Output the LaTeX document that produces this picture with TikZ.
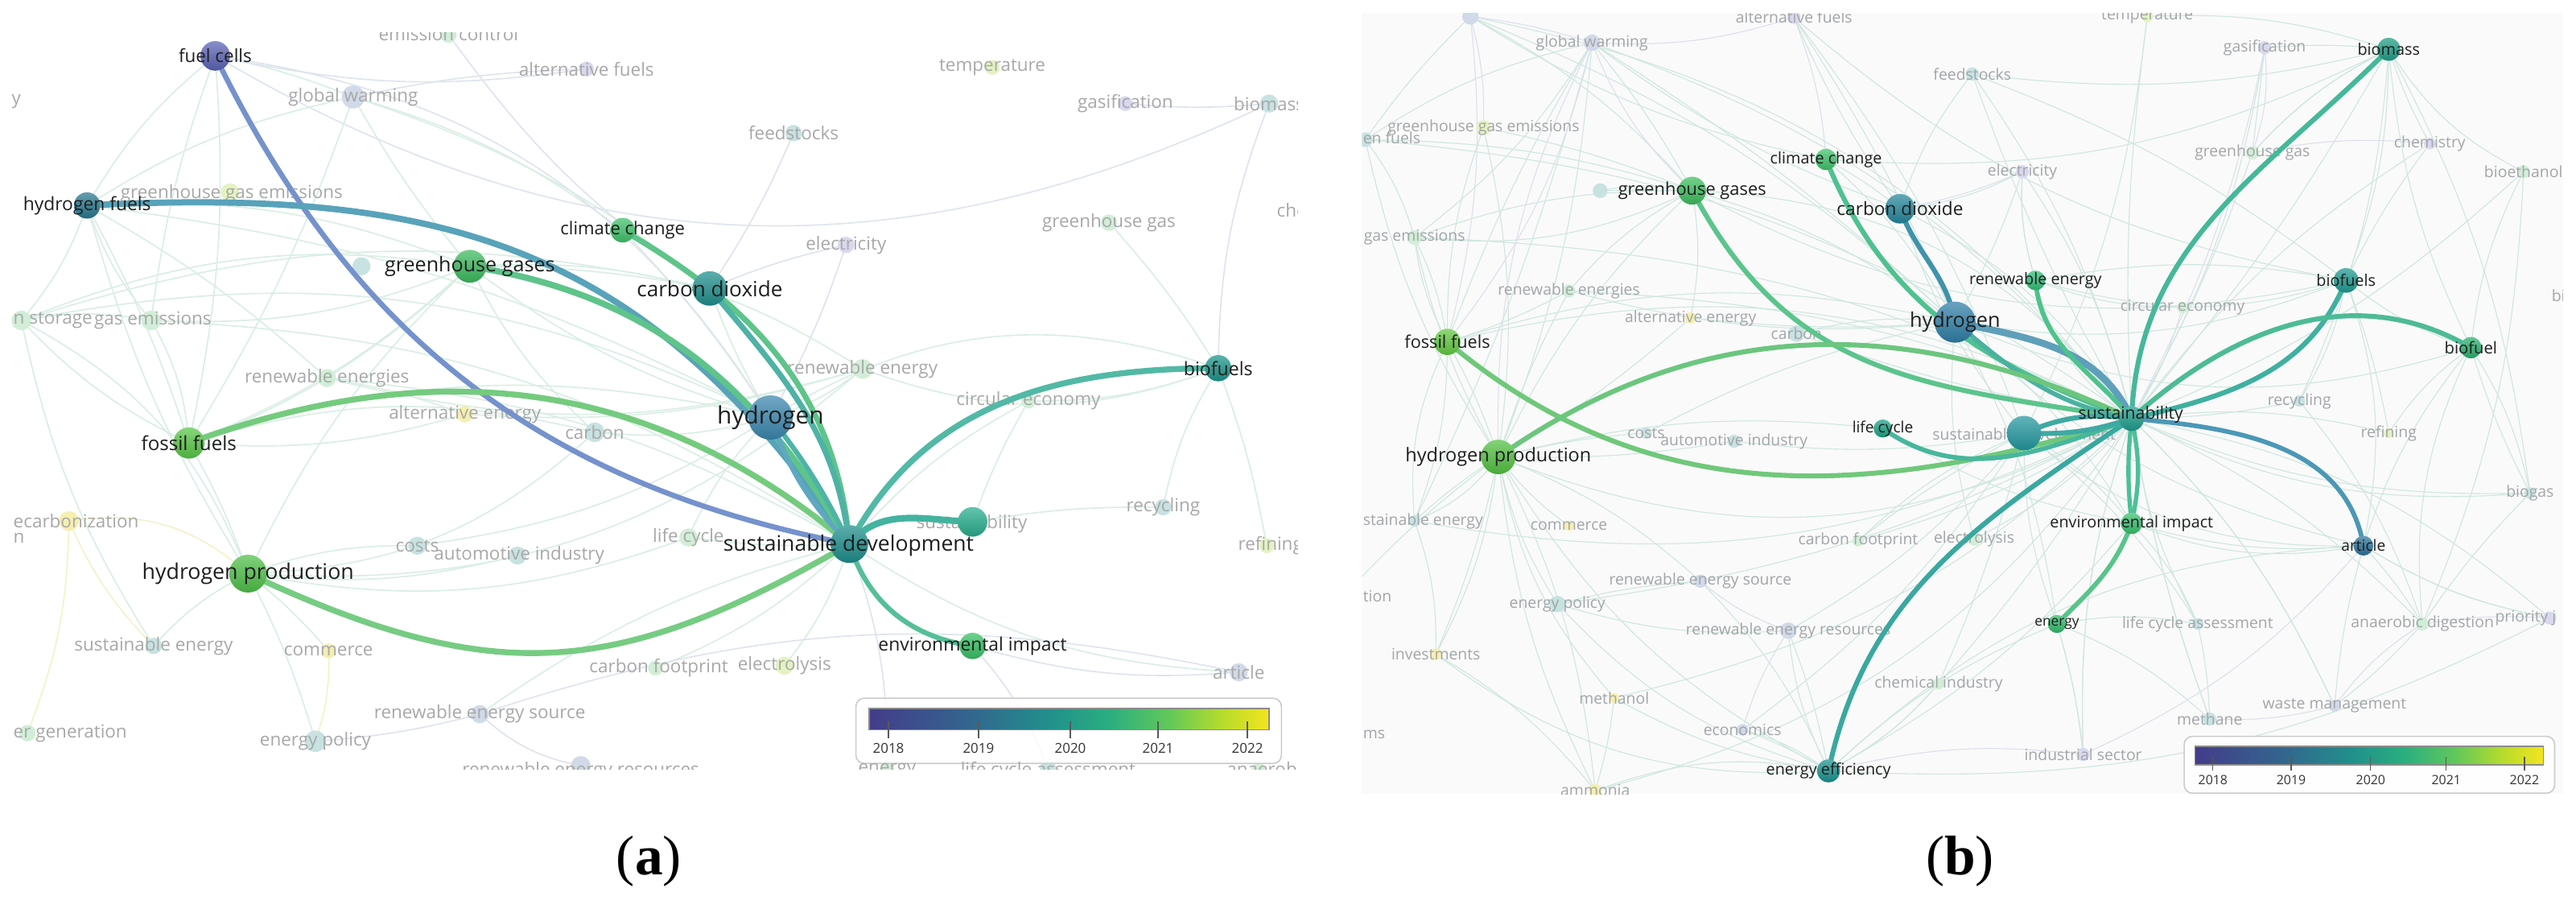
\documentclass[tikz,border=0pt]{standalone}
\usepackage{fontspec}
\setmainfont{Open Sans}
\newfontfamily\capfont{Liberation Serif}
\definecolor{labk}{HTML}{1E1E1E}
\definecolor{labf}{HTML}{A8A8A8}
\definecolor{labfb}{HTML}{A2A6A8}
\definecolor{faintA}{HTML}{DAEEE4}
\definecolor{faintAb}{HTML}{DEE4EE}
\definecolor{faintAy}{HTML}{F3F2CC}
\definecolor{faintB}{HTML}{D0E6E0}
\definecolor{faintBb}{HTML}{DCE0EC}
\definecolor{v0}{HTML}{443C8A}
\definecolor{v1}{HTML}{33658E}
\definecolor{v2}{HTML}{21908C}
\definecolor{v3}{HTML}{2AAE7F}
\definecolor{v4}{HTML}{62C85A}
\definecolor{v5}{HTML}{B4DC2C}
\definecolor{v6}{HTML}{F4E41E}
\definecolor{nb}{HTML}{D2D9E8}
\definecolor{nt}{HTML}{C8E2E2}
\definecolor{ng}{HTML}{D2EED8}
\definecolor{ny}{HTML}{F5EFB0}
\definecolor{np}{HTML}{D8D8EE}
\definecolor{nl}{HTML}{E4F2C2}
\definecolor{eFC}{HTML}{7592CC}
\definecolor{eHF}{HTML}{58A3BA}
\definecolor{eGG}{HTML}{5EC48A}
\definecolor{eCC}{HTML}{5EC48A}
\definecolor{eCD}{HTML}{4FB2A6}
\definecolor{eFF}{HTML}{74CB7E}
\definecolor{eHP}{HTML}{76CC82}
\definecolor{eHa}{HTML}{5FA8C2}
\definecolor{eHb}{HTML}{4DB4A6}
\definecolor{eSU}{HTML}{43B3A0}
\definecolor{eBF}{HTML}{52B9A6}
\definecolor{eEI}{HTML}{55BF98}
\definecolor{eGGb}{HTML}{5CC48C}
\definecolor{eCCb}{HTML}{4FC190}
\definecolor{eCDb}{HTML}{3F93AA}
\definecolor{eHab}{HTML}{5E9FBA}
\definecolor{eHbb}{HTML}{4AB1A0}
\definecolor{eFFb}{HTML}{70C87A}
\definecolor{eHPb}{HTML}{6CC67E}
\definecolor{eREb}{HTML}{4FC28C}
\definecolor{eBMb}{HTML}{45B89A}
\definecolor{eBSb}{HTML}{40B0A0}
\definecolor{eBOb}{HTML}{4DBB96}
\definecolor{eARb}{HTML}{4B98B6}
\definecolor{eEIb}{HTML}{4DC096}
\definecolor{eENb}{HTML}{58C48A}
\definecolor{eEEb}{HTML}{3AA8A0}
\definecolor{eLCb}{HTML}{48B79C}
\definecolor{eSDb}{HTML}{3FA9A2}
\pgfdeclarehorizontalshading{viridis}{100bp}{color(0bp)=(v0); color(25bp)=(v0); color(37.5bp)=(v1); color(47.5bp)=(v2); color(55bp)=(v3); color(62.5bp)=(v4); color(69bp)=(v5); color(75bp)=(v6); color(100bp)=(v6)}
\newcommand\MN[3]{\definecolor{mc#1}{HTML}{#3}\shade[top color=mc#1!72!white, bottom color=mc#1!88!black] (#1) circle[radius=#2];}
\newcommand\FN[3]{\fill[#3] (#1) circle[radius=#2];}
\newcommand\LB[3]{\node[ml=#2] (L#1) at (#1) {#3};}
\newcommand\FLa[2]{\node[fl=11] (T#1) at (#1) {#2};}
\newcommand\FLb[2]{\node[fl=9.5, text=labfb] (T#1) at (#1) {#2};}
\begin{document}
\begin{tikzpicture}[x=1pt,y=1pt,
  ml/.style={font=\fontsize{#1}{#1}\selectfont, text=labk, inner sep=0pt},
  fl/.style={font=\fontsize{#1}{#1}\selectfont, text=labf, inner sep=0pt},
  te/.style={line width=#1, line cap=round},
  fa/.style={draw=faintA, line width=0.8pt},
  fab/.style={draw=faintAb, line width=0.8pt},
  fay/.style={draw=faintAy, line width=0.8pt},
  fb/.style={draw=faintB, line width=0.55pt},
  fbb/.style={draw=faintBb, line width=0.55pt},
  tick/.style={draw=black!65, line width=0.6pt},
  yr/.style={font=\fontsize{#1}{#1}\selectfont, text=black!80, inner sep=0pt}]
\useasboundingbox (0,0) rectangle (1568,-555);
\fill[white] (0,0) rectangle (1568,-555);

% ================= PANEL (a) =================
\coordinate (fc) at (131,-34);
\coordinate (hf) at (53,-125);
\coordinate (gg) at (286,-162);
\coordinate (cc) at (379,-140);
\coordinate (cd) at (432,-175.5);
\coordinate (h) at (469,-254);
\coordinate (sd) at (517,-331);
\coordinate (su) at (592,-317.5);
\coordinate (bf) at (741.5,-224);
\coordinate (ei) at (592,-393);
\coordinate (ff) at (115,-269.5);
\coordinate (hp) at (151,-349);
\coordinate (ecA) at (273,-21);
\coordinate (afA) at (357,-42);
\coordinate (gwA) at (215,-59);
\coordinate (gemA) at (140,-117);
\coordinate (unA) at (220,-162);
\coordinate (hsA) at (13,-195);
\coordinate (geA) at (92,-195);
\coordinate (renA) at (199,-230);
\coordinate (aeA) at (283,-252);
\coordinate (caA) at (362,-263);
\coordinate (decA) at (42,-317);
\coordinate (coA) at (254,-332);
\coordinate (aiA) at (315,-338);
\coordinate (lcA) at (419,-327);
\coordinate (seA) at (93.5,-393);
\coordinate (cmA) at (200,-396);
\coordinate (cfA) at (399,-406.5);
\coordinate (elyA) at (477.5,-405);
\coordinate (resA) at (292,-434.5);
\coordinate (pgA) at (16.7,-446);
\coordinate (epA) at (192,-451);
\coordinate (rerA) at (353.5,-466);
\coordinate (reA) at (525,-224.5);
\coordinate (ceA) at (626,-244);
\coordinate (elA) at (515,-149);
\coordinate (fsA) at (483,-81);
\coordinate (tpA) at (604,-41);
\coordinate (gsA) at (685,-63);
\coordinate (bmA) at (772.5,-63);
\coordinate (ghA) at (675,-135.5);
\coordinate (rcA) at (708,-308.6);
\coordinate (rfA) at (771,-332);
\coordinate (arA) at (754,-409);
\coordinate (enA) at (540,-468);
\coordinate (lcaA) at (638,-468);
\coordinate (anA) at (766,-468);

\begin{scope}
\clip (7,-20) rectangle (790,-468);
\foreach \u/\v/\b in {fc/hf/-10, fc/ff/8, fc/geA/-6, fc/gwA/5, gwA/gg/-5, gwA/cd/10, gwA/hf/-10, gwA/ff/6, gwA/cc/10, hf/hsA/10, hf/geA/-10, hf/ff/5, hf/hp/-8, hf/gg/12, hf/renA/6, gg/ff/10, gg/hp/-10, gg/renA/5, gg/hsA/-15, gg/cd/5, gg/geA/12, cc/cd/6, cd/h/-5, h/reA/-10, h/caA/10, h/lcA/-10, h/coA/12, h/bf/25, ff/hp/5, ff/renA/-5, ff/hsA/10, ff/aeA/-10, ff/geA/-12, hp/aiA/-10, hp/coA/10, hp/cmA/5, hp/seA/-10, hp/epA/5, hp/caA/-20, hp/reA/-22, sd/ceA/10, bf/reA/20, bf/ceA/10, bf/rcA/-10, bf/rfA/5, bf/ghA/-5, sd/arA/-15, sd/elyA/10, gg/reA/18, ff/caA/15, hsA/geA/10, renA/aeA/5, hsA/hp/20, seA/hsA/10, sd/lcA/5, sd/cfA/10, su/ceA/5, su/rcA/5, sd/resA/-10, gg/h/-10, ff/h/15, hf/h/10, hsA/h/18, hsA/cd/15, geA/sd/15, renA/sd/12, renA/reA/-15, aeA/reA/-10, hp/lcA/-15, cc/h/5, gg/caA/-10}
  \draw[fa] (\u) to[bend left=\b] (\v);
\foreach \u/\v/\b in {fc/afA/-10, fc/h/25, fc/bmA/-28, gwA/afA/5, cd/elA/5, cd/fsA/-5, bf/bmA/10, bmA/gsA/5, resA/rerA/-15, resA/epA/5, resA/arA/15, cd/ecA/10, h/elA/-5, ei/lcaA/10, ei/arA/-10, sd/enA/10}
  \draw[fab] (\u) to[bend left=\b] (\v);
\foreach \u/\v/\b in {hp/decA/-25, decA/pgA/10, decA/seA/-10, cmA/epA/10}
  \draw[fay] (\u) to[bend left=\b] (\v);
% faded nodes
\FN{ecA}{5}{ng} \FN{afA}{4.5}{np} \FN{gwA}{7}{nb} \FN{gemA}{5.5}{nl}
\FN{unA}{5.5}{nt} \FN{hsA}{6}{ng} \FN{geA}{6}{ng} \FN{renA}{5.5}{ng}
\FN{aeA}{5}{ny} \FN{caA}{6}{nt} \FN{decA}{6}{ny} \FN{coA}{5.5}{nt}
\FN{aiA}{5.5}{nt} \FN{lcA}{5.5}{ng} \FN{seA}{5}{nt} \FN{cmA}{4.5}{ny}
\FN{cfA}{4.5}{ng} \FN{elyA}{5.5}{nl} \FN{resA}{5.5}{nb} \FN{pgA}{5}{ng}
\FN{epA}{6.5}{nt} \FN{rerA}{6}{nb} \FN{reA}{6}{ng} \FN{ceA}{4.5}{ng}
\FN{elA}{5}{np} \FN{fsA}{5}{nt} \FN{tpA}{4.5}{nl} \FN{gsA}{4.5}{np}
\FN{bmA}{5.5}{nt} \FN{ghA}{5}{ng} \FN{rcA}{5}{nt} \FN{rfA}{4.5}{nl}
\FN{arA}{5.5}{nb} \FN{enA}{4.5}{ng} \FN{lcaA}{5}{nt} \FN{anA}{4}{ng}
% faded labels
\node[fl=11] (TecA) at (273,-20.5) {emission control};
\FLa{afA}{alternative fuels}
\FLa{gwA}{global warming}
\node[fl=11] (Ty) at (7,-62) [anchor=west] {y};
\node[fl=11] (TgemA) at (141,-118) {greenhouse gas emissions};
\node[fl=11, anchor=west] (ThsA) at (8,-195) {n storage};
\node[fl=11] (TgeA) at (93,-195) {gas emissions};
\FLa{renA}{renewable energies}
\FLa{aeA}{alternative energy}
\FLa{caA}{carbon}
\node[fl=11, anchor=west] (TdecA) at (8,-317) {ecarbonization};
\node[fl=11, anchor=west] (Tn) at (8,-327.5) {n};
\FLa{coA}{costs}
\node[fl=11] (TaiA) at (316,-338) {automotive industry};
\FLa{lcA}{life cycle}
\FLa{seA}{sustainable energy}
\FLa{cmA}{commerce}
\node[fl=11] (TcfA) at (401,-406.5) {carbon footprint};
\FLa{elyA}{electrolysis}
\FLa{resA}{renewable energy source}
\node[fl=11, anchor=west] (TpgA) at (8,-446) {er generation};
\FLa{epA}{energy policy}
\node[fl=11] (TrerA) at (353.5,-469) {renewable energy resources};
\FLa{reA}{renewable energy}
\FLa{ceA}{circular economy}
\FLa{elA}{electricity}
\FLa{fsA}{feedstocks}
\FLa{tpA}{temperature}
\FLa{gsA}{gasification}
\FLa{bmA}{biomass}
\node[fl=11, anchor=west] (TchA) at (777,-129) {chemistry};
\FLa{ghA}{greenhouse gas}
\FLa{rcA}{recycling}
\node[fl=11, anchor=west] (TrfA) at (753.5,-332) {refining};
\FLa{arA}{article}
\node[fl=11] (Tsu) at (591.5,-318.5) {sustainability};
% thick edges
\draw[te=3.2pt, eFC] (fc) to[out=-64,in=169] (sd);
\draw[te=3.8pt, eHF] (hf) to[out=3,in=124,looseness=1.1] (sd);
\draw[te=3.8pt, eGG] (gg) to[out=-9,in=120] (sd);
\draw[te=3.4pt, eCC] (cc) to[out=-30,in=95] (sd);
\draw[te=3.4pt, eCD] (cd) to[out=-50,in=97] (sd);
\draw[te=3.6pt, eFF] (ff) to[out=20,in=140] (sd);
\draw[te=3.6pt, eHP] (hp) to[out=-25,in=-150,looseness=1.15] (sd);
\draw[te=3pt, eHa] (h) to[bend right=12] (sd);
\draw[te=3pt, eHb] (h) to[bend left=6] (sd);
\draw[te=4pt, eSU] (sd) to[out=50,in=178] (su);
\draw[te=3.6pt, eBF] (sd) to[out=62,in=180] (bf);
\draw[te=3pt, eEI] (sd) to[out=-72,in=172] (ei);
% main nodes
\MN{fc}{9}{5A62B6}
\MN{hf}{8}{28788F}
\MN{gg}{10}{3BB95D}
\MN{cc}{7.5}{3FC169}
\MN{cd}{10.5}{1F8E8D}
\MN{h}{13.5}{3A86AE}
\MN{sd}{11.5}{1C8D8B}
\MN{su}{9}{27AD8C}
\MN{bf}{8}{1B958A}
\MN{ei}{8}{36BF62}
\MN{ff}{9.5}{58C646}
\MN{hp}{11.5}{4FBF48}
\LB{fc}{11}{fuel cells}
\LB{hf}{11.2}{hydrogen fuels}
\LB{gg}{12.3}{greenhouse gases}
\LB{cc}{10.8}{climate change}
\LB{cd}{12.8}{carbon dioxide}
\LB{h}{14.6}{hydrogen}
\node[ml=13] (Lsd) at (516.5,-332) {sustainable development};
\LB{bf}{11.3}{biofuels}
\LB{ei}{11.2}{environmental impact}
\LB{ff}{11.8}{fossil fuels}
\LB{hp}{13.1}{hydrogen production}
% colour bar
\draw[draw=black!20, fill=white, fill opacity=0.85, rounded corners=5pt, line width=0.8pt] (521,-424.8) rectangle (780,-464.5);
\shade[shading=viridis] (529,-431) rectangle (772.5,-444);
\draw[draw=black!45, line width=0.7pt] (529,-431) rectangle (772.5,-444);
\foreach \x/\t [count=\i] in {540.8/2018, 595.6/2019, 651.5/2020, 704.9/2021, 759.3/2022}{
  \draw[tick] (\x,-439) -- (\x,-449);
  \node[yr=8.3] (ya\i) at (\x,-455.5) {\t};
}
\node[fl=11] (TenA) at (540,-469) {energy};
\node[fl=11] (TlcaA) at (638,-469) {life cycle assessment};
\node[fl=11, anchor=west] (TanA) at (746.5,-469) {anaerobic digestion};
\end{scope}

% ================= PANEL (b) =================
\coordinate (gB) at (1030,-116);
\coordinate (ccB) at (1111.5,-97);
\coordinate (cdB) at (1156.5,-127);
\coordinate (hB) at (1190,-196);
\coordinate (reB) at (1239,-170.6);
\coordinate (bmB) at (1454,-30);
\coordinate (bsB) at (1428,-170.6);
\coordinate (b1B) at (1504,-211.5);
\coordinate (ffB) at (881,-208);
\coordinate (hpB) at (912,-278);
\coordinate (lcB) at (1146,-260.7);
\coordinate (sdB) at (1232,-263.5);
\coordinate (sB) at (1297.5,-254.7);
\coordinate (eiB) at (1297.5,-318.4);
\coordinate (arB) at (1438.6,-332);
\coordinate (enB) at (1252,-379.6);
\coordinate (eeB) at (1113,-469);
\coordinate (tnB) at (895,-10);
\coordinate (afB) at (1092,-10.6);
\coordinate (tpB) at (1307,-10);
\coordinate (gwB) at (969,-26);
\coordinate (gsB) at (1378.5,-29);
\coordinate (fsB) at (1200.5,-45);
\coordinate (gemB) at (903,-77.6);
\coordinate (hfB) at (831,-85);
\coordinate (chB) at (1479,-87.4);
\coordinate (ghB) at (1371,-93);
\coordinate (beB) at (1536,-104.5);
\coordinate (elB) at (1231,-104.5);
\coordinate (unB) at (974,-116);
\coordinate (geB) at (861,-144.5);
\coordinate (renB) at (955,-177);
\coordinate (ceB) at (1328.5,-187);
\coordinate (aeB) at (1029,-193.5);
\coordinate (caB) at (1093.5,-203);
\coordinate (rcB) at (1399.6,-244);
\coordinate (coB) at (1002,-263.5);
\coordinate (aiB) at (1055.5,-268.5);
\coordinate (rfB) at (1454,-263.5);
\coordinate (bgB) at (1540,-300);
\coordinate (seB) at (861,-317);
\coordinate (cmB) at (955,-320);
\coordinate (cfB) at (1131,-329);
\coordinate (elyB) at (1201.6,-328);
\coordinate (resB) at (1035,-353.6);
\coordinate (pgB) at (818,-362.5);
\coordinate (epB) at (948,-367.5);
\coordinate (lcaB) at (1337.7,-379.6);
\coordinate (adB) at (1474.5,-379.6);
\coordinate (prB) at (1552,-376);
\coordinate (rerB) at (1088.5,-383.7);
\coordinate (invB) at (874,-398);
\coordinate (ciB) at (1180,-416);
\coordinate (meolB) at (982.5,-424.6);
\coordinate (wmB) at (1421,-429.5);
\coordinate (meB) at (1345,-437.5);
\coordinate (ecB) at (1060.6,-444);
\coordinate (isB) at (1268,-459);
\coordinate (amB) at (971,-481);

\begin{scope}
\clip (829,-8) rectangle (1560,-483);
\fill[black!2] (829,-8) rectangle (1560,-483);
\foreach \u/\v/\b in {gwB/gB/5, gwB/ffB/-5, gwB/hpB/8, gwB/cdB/-8, gwB/hB/5, gwB/geB/10, gwB/hfB/-10, gwB/seB/5, tnB/hfB/-5, tnB/gB/10, tnB/ccB/-10, tnB/hB/10, afB/hB/5, afB/cdB/-5, afB/sdB/8, tpB/bmB/10, tpB/sB/-5, gsB/bmB/5, gsB/ghB/0, fsB/bsB/8, fsB/bmB/-10, fsB/sB/10, chB/bmB/5, chB/bsB/-5, ghB/bmB/10, ghB/sB/5, beB/b1B/-10, beB/bmB/15, beB/adB/10, elB/hB/5, elB/reB/-10, gemB/gB/5, gemB/ffB/-10, gemB/hpB/10, unB/gB/0, geB/ffB/8, geB/hpB/-8, geB/gB/10, renB/ffB/5, renB/hpB/-5, renB/sB/10, renB/hB/-10, ceB/sB/8, ceB/bsB/-8, ceB/reB/5, aeB/hpB/5, aeB/hB/-5, caB/hB/10, caB/sB/-5, rcB/sB/5, rcB/bsB/-10, rcB/adB/10, coB/hpB/-5, coB/hB/8, aiB/hpB/5, aiB/sdB/-8, rfB/b1B/10, rfB/bsB/-5, bgB/b1B/5, bgB/adB/-5, bgB/bmB/-10, seB/hpB/5, seB/ffB/-10, cmB/hpB/8, cfB/sB/-8, cfB/sdB/5, elyB/hB/10, elyB/sB/-10, resB/eeB/10, resB/epB/-5, resB/hpB/-10, pgB/hpB/5, epB/hpB/10, epB/eeB/-15, lcaB/sB/10, lcaB/eiB/-10, lcaB/meB/5, adB/sB/-10, adB/b1B/15, adB/wmB/5, prB/arB/10, prB/sB/-15, rerB/eeB/5, rerB/sdB/-10, rerB/epB/10, invB/hpB/-5, invB/amB/10, ciB/sB/-5, ciB/eeB/10, meolB/eeB/-10, meolB/hpB/15, meolB/amB/5, wmB/arB/5, wmB/sB/-10, meB/sB/5, meB/enB/-10, ecB/eeB/5, ecB/sdB/-10, isB/sB/10, isB/enB/-5, amB/hpB/-10, amB/eeB/15, sB/bmB/-5, sdB/arB/-20, hB/bsB/-15, hB/b1B/-20, ffB/hB/15, gB/bsB/-20, hpB/eeB/-15, eeB/arB/20, ccB/bmB/-15, gB/hB/10, gB/hpB/-10, ffB/hpB/5, cdB/sdB/-10, ccB/cdB/5, reB/bsB/10, bsB/b1B/-10, arB/eiB/10, enB/eeB/-10, seB/invB/10, hfB/geB/10, hfB/gB/8,
 hpB/sB/-25, hpB/lcB/10, ffB/sB/20, gB/sB/25, ccB/hB/10, cdB/sB/15, reB/sB/-20, hB/eiB/10, hB/arB/-15, hB/enB/10, lcB/eiB/-10, sdB/eiB/10, sdB/enB/-10, eiB/arB/-15, eiB/eeB/10, bmB/bsB/10, bmB/b1B/-10, bmB/ghB/-10, bmB/rcB/10, bsB/arB/15, b1B/arB/-10, b1B/bgB/10, arB/adB/5, arB/prB/-10, enB/lcaB/10, enB/isB/5, eeB/ciB/-10, eeB/rerB/10, eeB/ecB/-10, ffB/seB/-15, ffB/geB/10, hpB/seB/15, hpB/invB/10, hpB/amB/-10, gB/geB/15, gB/renB/-10, gB/aeB/10, gB/unB/-10, cdB/elB/-10, cdB/fsB/10, reB/elB/10, reB/ceB/-10, sB/rfB/10, sB/bgB/-15, sB/wmB/10, sB/meB/-5, sB/isB/-10, sB/chB/10, sB/gsB/-10, sB/fsB/5, sB/elB/-10, sdB/lcaB/10, sdB/ciB/5, sdB/cfB/-10, gwB/sB/15, tnB/sB/20, afB/bsB/-15, tpB/sdB/10, hfB/hpB/-10, hfB/sB/15, geB/sB/12, seB/sB/-18, epB/sB/-10, invB/eeB/-20, amB/sB/-20, meolB/sB/-15, beB/sB/10, bgB/sB/12, prB/eeB/15}
  \draw[fb] (\u) to[bend left=\b] (\v);
\foreach \u/\v/\b in {tnB/gwB/5, gwB/afB/-10, tnB/gemB/8, gwB/gB/-12, gwB/ffB/12, afB/ccB/8, gsB/ghB/12, elB/cdB/6, isB/eeB/-10, wmB/meB/8, prB/adB/-6, rerB/resB/10, ecB/rerB/8, chB/ghB/-8, gwB/hpB/-14, tnB/ffB/10, isB/arB/-12, wmB/adB/10, gsB/sB/8}
  \draw[fbb] (\u) to[bend left=\b] (\v);
% faded nodes
\FN{tnB}{5}{nb} \FN{afB}{4}{np} \FN{tpB}{3.5}{nl} \FN{gwB}{5}{nb}
\FN{gsB}{4}{np} \FN{fsB}{4}{nt} \FN{gemB}{4.5}{nl} \FN{hfB}{4.5}{nt}
\FN{chB}{3.5}{np} \FN{ghB}{4}{ng} \FN{beB}{4}{ng} \FN{elB}{4}{np}
\FN{unB}{4.5}{nt} \FN{geB}{4.5}{ng} \FN{renB}{4}{ng} \FN{ceB}{3.5}{ng}
\FN{aeB}{3.5}{ny} \FN{caB}{5}{nt} \FN{rcB}{3.5}{nt} \FN{coB}{3.5}{nt}
\FN{aiB}{4}{nt} \FN{rfB}{3}{nl} \FN{bgB}{3.5}{nt} \FN{seB}{3.5}{nt}
\FN{cmB}{3}{ny} \FN{cfB}{3.5}{ng} \FN{elyB}{4}{ng} \FN{resB}{4}{nb}
\FN{epB}{5}{nt} \FN{lcaB}{3.5}{nt} \FN{adB}{4}{ng} \FN{prB}{4}{np}
\FN{rerB}{5}{nb} \FN{invB}{3.5}{ny} \FN{ciB}{3.5}{ng} \FN{meolB}{3}{ny}
\FN{wmB}{3.5}{nb} \FN{meB}{4}{nt} \FN{ecB}{3.5}{nb} \FN{isB}{4}{np}
\FN{amB}{4}{ny}
% faded labels
\FLb{afB}{alternative fuels}
\FLb{tpB}{temperature}
\FLb{gwB}{global warming}
\FLb{gsB}{gasification}
\FLb{fsB}{feedstocks}
\FLb{gemB}{greenhouse gas emissions}
\node[fl=9.5, text=labfb, anchor=west] (ThfB) at (829.5,-84) {en fuels};
\FLb{chB}{chemistry}
\FLb{ghB}{greenhouse gas}
\FLb{beB}{bioethanol}
\FLb{elB}{electricity}
\FLb{geB}{gas emissions}
\FLb{renB}{renewable energies}
\node[fl=9.5, text=labfb, anchor=west] (TbioB) at (1553,-180) {bio};
\FLb{ceB}{circular economy}
\FLb{aeB}{alternative energy}
\FLb{caB}{carbon}
\FLb{rcB}{recycling}
\FLb{coB}{costs}
\node[fl=9.5, text=labfb] (TaiB) at (1055.5,-268.5) {automotive industry};
\FLb{rfB}{refining}
\FLb{bgB}{biogas}
\FLb{seB}{sustainable energy}
\FLb{cmB}{commerce}
\FLb{cfB}{carbon footprint}
\FLb{elyB}{electrolysis}
\FLb{resB}{renewable energy source}
\node[fl=9.5, text=labfb, anchor=west] (TpgB) at (829.5,-362.5) {tion};
\FLb{epB}{energy policy}
\FLb{lcaB}{life cycle assessment}
\FLb{adB}{anaerobic digestion}
\node[fl=9.5, text=labfb, anchor=west] (TprB) at (1518.6,-376) {priority j};
\FLb{rerB}{renewable energy resources}
\FLb{invB}{investments}
\FLb{ciB}{chemical industry}
\FLb{meolB}{methanol}
\FLb{wmB}{waste management}
\FLb{meB}{methane}
\FLb{ecB}{economics}
\node[fl=9.5, text=labfb, anchor=west] (TmsB) at (829.5,-446.7) {ms};
\FLb{isB}{industrial sector}
\FLb{amB}{ammonia}
\node[fl=9.5, text=labfb] (TsdB) at (1232,-265) {sustainable development};
% thick edges
\draw[te=3pt, eGGb] (gB) to[out=-62,in=171,looseness=1.1] (sB);
\draw[te=3pt, eCCb] (ccB) to[out=-68,in=160] (sB);
\draw[te=3pt, eCDb] (cdB) to[out=-70,in=100] (hB);
\draw[te=4.2pt, eHab] (hB) to[out=-12,in=115] (sB);
\draw[te=2.8pt, eHbb] (hB) to[out=-40,in=170] (sB);
\draw[te=3pt, eFFb] (ffB) to[out=-40,in=-163] (sB);
\draw[te=3pt, eHPb] (hpB) to[out=35,in=155] (sB);
\draw[te=2.8pt, eREb] (reB) to[out=-85,in=130] (sB);
\draw[te=3pt, eBMb] (bmB) to[out=-135,in=88] (sB);
\draw[te=3pt, eBSb] (bsB) to[out=-112,in=13] (sB);
\draw[te=3pt, eBOb] (b1B) to[out=150,in=42] (sB);
\draw[te=2.8pt, eARb] (sB) to[out=-5,in=100] (arB);
\draw[te=2.6pt, eEIb] (sB) to[bend left=12] (eiB);
\draw[te=2.6pt, eEIb] (sB) to[bend right=6] (eiB);
\draw[te=2.8pt, eENb] (eiB) to[out=-110,in=45] (enB);
\draw[te=3pt, eEEb] (eeB) to[out=78,in=-146] (sB);
\draw[te=2.8pt, eLCb] (lcB) to[out=-35,in=-160] (sB);
\draw[te=3pt, eSDb] (sdB) to[bend left=15] (sB);
\draw[te=3pt, eSDb] (sdB) to[bend right=10] (sB);
% main nodes
\MN{gB}{8.5}{3DBD5E}
\MN{ccB}{6.5}{3FC26A}
\MN{cdB}{9}{25869B}
\MN{hB}{12.5}{2F7EA6}
\MN{reB}{6}{31BD78}
\MN{bmB}{7}{1F9E86}
\MN{bsB}{7.5}{1E9A90}
\MN{b1B}{6.5}{29B06F}
\MN{ffB}{8}{62C841}
\MN{hpB}{10.5}{53C042}
\MN{lcB}{5.5}{1AA285}
\MN{sdB}{10.5}{23979F}
\MN{sB}{7.5}{1C9D8C}
\MN{eiB}{6.5}{36C06D}
\MN{arB}{6}{2A749B}
\MN{enB}{5.5}{30BA68}
\MN{eeB}{7}{17928F}
\LB{gB}{10.7}{greenhouse gases}
\LB{ccB}{9.7}{climate change}
\LB{cdB}{11.1}{carbon dioxide}
\LB{hB}{12.4}{hydrogen}
\LB{reB}{9.7}{renewable energy}
\LB{bmB}{9.7}{biomass}
\LB{bsB}{9.7}{biofuels}
\LB{b1B}{9.9}{biofuel}
\LB{ffB}{10.6}{fossil fuels}
\LB{hpB}{11.5}{hydrogen production}
\LB{lcB}{9.4}{life cycle}
\node[ml=10.4] (LsB) at (1297,-252.3) {sustainability};
\LB{eiB}{9.7}{environmental impact}
\LB{arB}{9.4}{article}
\LB{enB}{8.5}{energy}
\LB{eeB}{9.7}{energy efficiency}
% colour bar
\draw[draw=black!20, fill=white, fill opacity=0.85, rounded corners=5pt, line width=0.8pt] (1329.5,-448) rectangle (1555,-482.6);
\shade[shading=viridis] (1336,-454) rectangle (1548,-465.4);
\draw[draw=black!45, line width=0.7pt] (1336,-454) rectangle (1548,-465.4);
\foreach \x/\t [count=\i] in {1347/2018, 1394.6/2019, 1443/2020, 1489/2021, 1536.6/2022}{
  \draw[tick] (\x,-460.5) -- (\x,-469);
  \node[yr=7.8] (yb\i) at (\x,-474.6) {\t};
}
\end{scope}

% captions
\node[font=\capfont\fontsize{34}{34}\selectfont, inner sep=0pt] (capa) at (395,-524) {(\textbf{a})};
\node[font=\capfont\fontsize{34}{34}\selectfont, inner sep=0pt] (capb) at (1193,-524) {(\textbf{b})};
\end{tikzpicture}
\end{document}
